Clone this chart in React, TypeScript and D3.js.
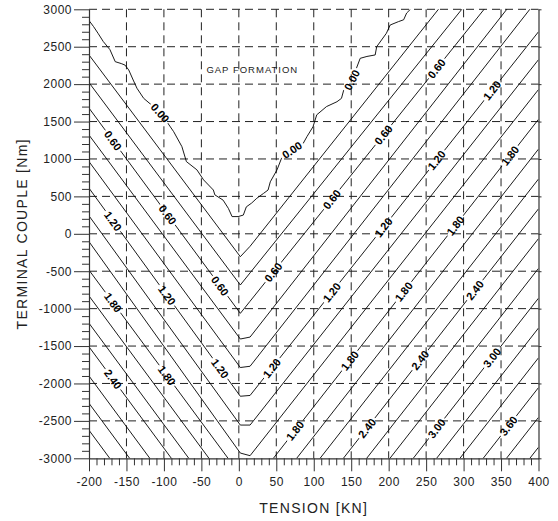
import { useEffect, useRef } from 'react';
import * as d3 from 'd3';

// contour levels (every 0.2), read along the chart edges
const levels = [0.2, 0.4, 0.6, 0.8, 1.0, 1.2, 1.4, 1.6, 1.8, 2.0, 2.2, 2.4, 2.6, 2.8, 3.0, 3.2, 3.4, 3.6, 3.8, 4.0];
// tension values where each V-shaped contour bends
const armT = [-200, 2, 15, 400];
const leftEdgeM = [2390, 2020, 1680, 1320, 965, 610, 240, -105, -485, -830, -1195, -1510, -1900, -2265, -2625, -2985, -3345, -3700, -4060, -4420];
const bottomLeftM = [-306, -684, -1063, -1406, -1787, -2171, -2556, -2930, -3222, -3567, -3932, -4247, -4637, -5002, -5362, -5722, -6082, -6437, -6797, -7157];
const bottomRightM = [-167, -522, -901, -1380, -1770, -2160, -2556, -2965, -3398, -3796, -4196, -4594, -4992, -5390, -5788, -6187, -6585, -6983, -7381, -7780];
const rightEdgeM = [4683, 4276, 3907, 3541, 3148, 2700, 2327, 1928, 1530, 1132, 732, 334, -64, -462, -860, -1259, -1657, -2055, -2453, -2852];

// 0.00 line (gap formation boundary)
const gapT = [-200, -194, -188, -181, -172, -165, -157, -152, -147, -141, -136, -127, -114, -105, -97, -87, -76, -70, -56, -47, -34, -32, -21, -14, -9, -1, 6, 10, 17, 24, 33, 39, 42, 51, 57, 71, 86, 91, 99, 104, 117, 131, 137, 140, 151, 162, 171, 182, 184, 197, 202, 213, 220, 224, 229];
const gapM = [2850, 2770, 2680, 2570, 2460, 2300, 2275, 2255, 2190, 2055, 1945, 1810, 1700, 1615, 1510, 1365, 1165, 965, 855, 720, 585, 520, 450, 340, 230, 230, 250, 360, 410, 475, 540, 585, 695, 855, 1010, 1120, 1210, 1300, 1430, 1590, 1700, 1765, 1810, 1920, 2055, 2345, 2370, 2390, 2500, 2680, 2790, 2835, 2860, 2950, 3000];

// contour labels: level and tension where the label sits
const labelLevel = [0, 0, 0, 0.6, 0.6, 0.6, 0.6, 0.6, 0.6, 0.6, 1.2, 1.2, 1.2, 1.2, 1.2, 1.2, 1.2, 1.2, 1.8, 1.8, 1.8, 1.8, 1.8, 1.8, 1.8, 2.4, 2.4, 2.4, 2.4, 3.0, 3.0, 3.6];
const labelT = [-105, 71, 151, -168, -95, -25, 46, 124, 193, 264, -168, -96, -25, 44, 124, 193, 264, 338, -168, -96, 75, 148, 220, 289, 362, -168, 171, 242, 315, 264, 338, 360];

const xTicks = [-200, -150, -100, -50, 0, 50, 100, 150, 200, 250, 300, 350, 400];
const yTicks = [-3000, -2500, -2000, -1500, -1000, -500, 0, 500, 1000, 1500, 2000, 2500, 3000];

const FONT = '"Liberation Sans", Arial, sans-serif';

function mAt(ts: number[], ms: number[], t: number) {
  const i = Math.max(1, Math.min(ts.length - 1, d3.bisectLeft(ts, t)));
  return ms[i - 1] + ((ms[i] - ms[i - 1]) * (t - ts[i - 1])) / (ts[i] - ts[i - 1]);
}

export default function App() {
  const ref = useRef<SVGSVGElement>(null);

  useEffect(() => {
    const svg = d3.select(ref.current);
    svg.selectAll('*').remove();

    const x = d3.scaleLinear().domain([-200, 400]).range([89, 538.5]);
    const y = d3.scaleLinear().domain([-3000, 3000]).range([458.3, 9.3]);

    svg.append('rect').attr('width', 558).attr('height', 521).attr('fill', '#fff');

    const defs = svg.append('defs');
    defs.append('clipPath').attr('id', 'plot')
      .append('rect')
      .attr('x', x(-200)).attr('y', y(3000))
      .attr('width', x(400) - x(-200)).attr('height', y(-3000) - y(3000));
    const mask = defs.append('mask').attr('id', 'gaps')
      .attr('maskUnits', 'userSpaceOnUse')
      .attr('x', 0).attr('y', 0).attr('width', 558).attr('height', 521);
    mask.append('rect').attr('width', 558).attr('height', 521).attr('fill', '#fff');

    // grid
    const grid = svg.append('g').attr('stroke', '#222').attr('stroke-width', 1).attr('stroke-dasharray', '8,5');
    grid.selectAll('line.v').data(xTicks.slice(1, -1)).enter().append('line')
      .attr('x1', d => x(d)).attr('x2', d => x(d))
      .attr('y1', y(3000)).attr('y2', y(-3000));
    grid.selectAll('line.h').data(yTicks.slice(1)).enter().append('line')
      .attr('y1', d => y(d)).attr('y2', d => y(d))
      .attr('x1', x(-200)).attr('x2', x(400));

    // contour lines
    const line = d3.line<[number, number]>().x(d => x(d[0])).y(d => y(d[1]));
    const contours: { level: number; ts: number[]; ms: number[] }[] = levels.map((lv, i) => ({
      level: lv,
      ts: armT,
      ms: [leftEdgeM[i], bottomLeftM[i], bottomRightM[i], rightEdgeM[i]],
    }));
    contours.unshift({ level: 0, ts: gapT, ms: gapM });

    const lines = svg.append('g').attr('clip-path', 'url(#plot)')
      .append('g').attr('mask', 'url(#gaps)');
    lines.selectAll('path').data(contours).enter().append('path')
      .attr('d', c => line(c.ts.map((t, j) => [t, c.ms[j]] as [number, number])))
      .attr('fill', 'none').attr('stroke', '#000').attr('stroke-width', 0.9);

    // contour labels
    const labels = svg.append('g');
    labelLevel.forEach((lv, i) => {
      const c = contours.find(k => Math.abs(k.level - lv) < 1e-6)!;
      const t = labelT[i];
      const h = lv === 0 ? 12 : 4;
      const px = x(t), py = y(mAt(c.ts, c.ms, t));
      const dx = x(t + h) - x(t - h);
      const dy = y(mAt(c.ts, c.ms, t + h)) - y(mAt(c.ts, c.ms, t - h));
      const ang = (Math.atan2(dy, dx) * 180) / Math.PI;
      const txt = labels.append('text')
        .attr('transform', `translate(${px},${py}) rotate(${ang})`)
        .attr('text-anchor', 'middle').attr('dominant-baseline', 'central')
        .attr('font-family', FONT).attr('font-size', 11).attr('font-weight', 'bold')
        .attr('fill', '#000')
        .text(lv.toFixed(2));
      const w = (txt.node() as SVGTextElement).getComputedTextLength() + 4;
      mask.append('rect')
        .attr('x', -w / 2).attr('y', -5).attr('width', w).attr('height', 10)
        .attr('transform', `translate(${px},${py}) rotate(${ang})`)
        .attr('fill', '#000');
    });

    svg.append('text')
      .attr('x', x(18)).attr('y', y(2150))
      .attr('text-anchor', 'middle')
      .attr('font-family', FONT).attr('font-size', 9.5).attr('letter-spacing', 1)
      .attr('fill', '#222')
      .text('GAP FORMATION');

    // axes
    const styleAxis = (g: d3.Selection<SVGGElement, unknown, null, undefined>) => {
      g.attr('font-family', FONT).attr('font-size', 12);
      g.selectAll('text').attr('fill', '#222').attr('letter-spacing', 0.5);
      g.selectAll('line').attr('stroke', '#333');
      g.select('.domain').attr('stroke', '#333').attr('stroke-width', 1.2);
    };
    const xMinor = d3.range(-200, 401, 10).filter(v => v % 50 !== 0);
    const yMinor = d3.range(-3000, 3001, 100).filter(v => v % 500 !== 0);

    const bottom = svg.append('g').attr('transform', `translate(0,${y(-3000)})`);
    bottom.call(d3.axisBottom(x).tickValues(xTicks).tickSize(13).tickSizeOuter(0).tickPadding(6).tickFormat(d => String(d)));
    bottom.append('g').call(d3.axisBottom(x).tickValues(xMinor).tickSize(7).tickFormat(() => ''))
      .call(g => g.select('.domain').remove());
    styleAxis(bottom);

    const left = svg.append('g').attr('transform', `translate(${x(-200)},0)`);
    left.call(d3.axisLeft(y).tickValues(yTicks).tickSize(15).tickSizeOuter(0).tickPadding(2).tickFormat(d => String(d)));
    left.append('g').call(d3.axisLeft(y).tickValues(yMinor).tickSize(7).tickFormat(() => ''))
      .call(g => g.select('.domain').remove());
    styleAxis(left);

    const right = svg.append('g').attr('transform', `translate(${x(400)},0)`);
    right.call(d3.axisRight(y).tickValues(yTicks).tickSize(3).tickSizeOuter(0).tickFormat(() => ''));
    styleAxis(right);

    svg.append('text')
      .attr('x', (x(-200) + x(400)) / 2).attr('y', 512.5)
      .attr('text-anchor', 'middle')
      .attr('font-family', FONT).attr('font-size', 14).attr('letter-spacing', 1.3)
      .attr('fill', '#222')
      .text('TENSION [KN]');

    svg.append('text')
      .attr('transform', `translate(26.5,${(y(-3000) + y(3000)) / 2}) rotate(-90)`)
      .attr('text-anchor', 'middle')
      .attr('font-family', FONT).attr('font-size', 14).attr('letter-spacing', 1.3)
      .attr('fill', '#222')
      .text('TERMINAL COUPLE [Nm]');
  }, []);

  return (
    <>
      <style>{'body{margin:0}'}</style>
      <svg ref={ref} width={558} height={521} style={{ display: 'block' }} />
    </>
  );
}
